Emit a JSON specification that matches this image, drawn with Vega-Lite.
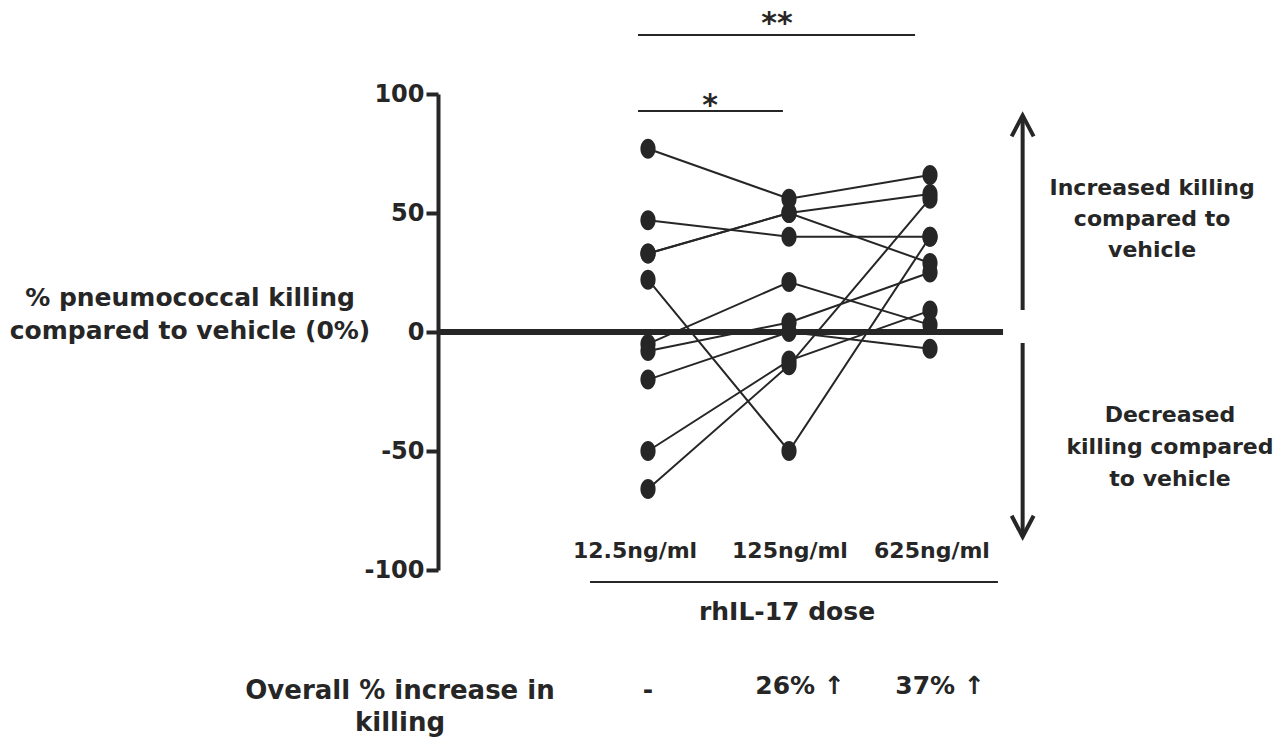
{
  "$schema": "https://vega.github.io/schema/vega-lite/v6.json",
  "autosize": {"type": "none"},
  "padding": {"left": 438, "top": 94, "right": 0, "bottom": 169},
  "width": 842,
  "height": 476,
  "background": "white",
  "config": {"view": {"stroke": null}, "text": {"font": "DejaVu Sans", "fontWeight": "bold", "color": "#262626"}},
  "datasets": {
    "killing": [
      {"subject": "A", "dose": 1, "value": 77}, {"subject": "A", "dose": 2, "value": 56}, {"subject": "A", "dose": 3, "value": 66},
      {"subject": "B", "dose": 1, "value": 47}, {"subject": "B", "dose": 2, "value": 40}, {"subject": "B", "dose": 3, "value": 40},
      {"subject": "C", "dose": 1, "value": 33}, {"subject": "C", "dose": 2, "value": 50}, {"subject": "C", "dose": 3, "value": 58},
      {"subject": "D", "dose": 1, "value": 33}, {"subject": "D", "dose": 2, "value": 50}, {"subject": "D", "dose": 3, "value": 29},
      {"subject": "E", "dose": 1, "value": 22}, {"subject": "E", "dose": 2, "value": -50}, {"subject": "E", "dose": 3, "value": 40},
      {"subject": "F", "dose": 1, "value": -5}, {"subject": "F", "dose": 2, "value": 21}, {"subject": "F", "dose": 3, "value": 3},
      {"subject": "G", "dose": 1, "value": -8}, {"subject": "G", "dose": 2, "value": 4}, {"subject": "G", "dose": 3, "value": 25},
      {"subject": "H", "dose": 1, "value": -20}, {"subject": "H", "dose": 2, "value": 0}, {"subject": "H", "dose": 3, "value": -7},
      {"subject": "I", "dose": 1, "value": -50}, {"subject": "I", "dose": 2, "value": -12}, {"subject": "I", "dose": 3, "value": 9},
      {"subject": "J", "dose": 1, "value": -66}, {"subject": "J", "dose": 2, "value": -14}, {"subject": "J", "dose": 3, "value": 56}
    ],
    "hrules": [
      {"kind": "zero", "x": -0.4894, "x2": 3.518, "y": 0},
      {"kind": "thin", "x": 0.589, "x2": 3.482, "y": -105},
      {"kind": "thin", "x": 0.929, "x2": 2.894, "y": 124.8},
      {"kind": "thin", "x": 0.929, "x2": 1.957, "y": 92.9}
    ],
    "arrows": [
      {"dir": "up", "x": 3.657, "y": 9.2, "y2": 91.0, "tip": 91.0},
      {"dir": "down", "x": 3.657, "y": -4.6, "y2": -86.0, "tip": -86.0}
    ],
    "texts": [
      {"kind": "ytitle", "x": -2.248, "y": 14.3, "text": "% pneumococcal killing"},
      {"kind": "ytitle", "x": -2.248, "y": 0.4, "text": "compared to vehicle (0%)"},
      {"kind": "xlabel", "x": 0.908, "y": -92.0, "text": "12.5ng/ml"},
      {"kind": "xlabel", "x": 2.007, "y": -92.0, "text": "125ng/ml"},
      {"kind": "xlabel", "x": 3.014, "y": -92.0, "text": "625ng/ml"},
      {"kind": "xtitle", "x": 1.986, "y": -117.6, "text": "rhIL-17 dose"},
      {"kind": "overall", "x": -0.759, "y": -150.8, "text": "Overall % increase in"},
      {"kind": "overall", "x": -0.759, "y": -164.3, "text": "killing"},
      {"kind": "pct", "x": 1.0, "y": -150.4, "text": "-"},
      {"kind": "pct", "x": 2.078, "y": -148.7, "text": "26% ↑"},
      {"kind": "pct", "x": 3.071, "y": -148.7, "text": "37% ↑"},
      {"kind": "side", "x": 4.575, "y": 60.5, "text": "Increased killing"},
      {"kind": "side", "x": 4.575, "y": 47.5, "text": "compared to"},
      {"kind": "side", "x": 4.575, "y": 34.5, "text": "vehicle"},
      {"kind": "side", "x": 4.702, "y": -34.9, "text": "Decreased"},
      {"kind": "side", "x": 4.702, "y": -48.3, "text": "killing compared"},
      {"kind": "side", "x": 4.702, "y": -61.8, "text": "to vehicle"},
      {"kind": "star", "x": 1.915, "y": 129.5, "text": "**"},
      {"kind": "star", "x": 1.44, "y": 95.0, "text": "*"}
    ]
  },
  "layer": [
    {
      "data": {"name": "hrules"},
      "transform": [{"filter": "datum.kind === 'thin'"}],
      "mark": {"type": "rule", "strokeWidth": 2, "color": "#262626", "clip": false},
      "encoding": {
        "x": {"field": "x", "type": "quantitative", "scale": {"domain": [-0.4894, 5.4823], "nice": false, "zero": false}, "axis": null},
        "x2": {"field": "x2"},
        "y": {"field": "y", "type": "quantitative", "scale": {"domain": [-100, 100], "nice": false, "zero": false},
          "axis": {"values": [-100, -50, 0, 50, 100], "labelExpr": "'' + datum.value", "title": null, "grid": false, "domainWidth": 4, "domainColor": "#262626", "tickWidth": 4, "tickColor": "#262626", "tickSize": 12, "labelFont": "DejaVu Sans", "labelFontWeight": "bold", "labelFontSize": 24, "labelColor": "#262626", "labelPadding": 2}}
      }
    },
    {
      "data": {"name": "killing"},
      "mark": {"type": "line", "strokeWidth": 2, "color": "#262626"},
      "encoding": {
        "x": {"field": "dose", "type": "quantitative"},
        "y": {"field": "value", "type": "quantitative"},
        "detail": {"field": "subject"}
      }
    },
    {
      "data": {"name": "hrules"},
      "transform": [{"filter": "datum.kind === 'zero'"}],
      "mark": {"type": "rule", "strokeWidth": 6, "color": "#262626", "clip": false},
      "encoding": {
        "x": {"field": "x", "type": "quantitative"},
        "x2": {"field": "x2"},
        "y": {"field": "y", "type": "quantitative"}
      }
    },
    {
      "data": {"name": "killing"},
      "mark": {"type": "point", "filled": true, "opacity": 1, "color": "#262626", "size": 400, "shape": "M -0.76 0 A 0.76 1 0 1 0 0.76 0 A 0.76 1 0 1 0 -0.76 0 Z"},
      "encoding": {
        "x": {"field": "dose", "type": "quantitative"},
        "y": {"field": "value", "type": "quantitative"}
      }
    },
    {
      "data": {"name": "arrows"},
      "mark": {"type": "rule", "strokeWidth": 4, "color": "#262626", "clip": false},
      "encoding": {
        "x": {"field": "x", "type": "quantitative"},
        "y": {"field": "y", "type": "quantitative"},
        "y2": {"field": "y2"}
      }
    },
    {
      "data": {"name": "arrows"},
      "transform": [{"filter": "datum.dir === 'up'"}],
      "mark": {"type": "point", "filled": false, "opacity": 1, "strokeWidth": 4, "color": "#262626", "size": 484, "shape": "M -1 1.9 L 0 0 L 1 1.9", "clip": false},
      "encoding": {
        "x": {"field": "x", "type": "quantitative"},
        "y": {"field": "tip", "type": "quantitative"}
      }
    },
    {
      "data": {"name": "arrows"},
      "transform": [{"filter": "datum.dir === 'down'"}],
      "mark": {"type": "point", "filled": false, "opacity": 1, "strokeWidth": 4, "color": "#262626", "size": 484, "shape": "M -1 -1.9 L 0 0 L 1 -1.9", "clip": false},
      "encoding": {
        "x": {"field": "x", "type": "quantitative"},
        "y": {"field": "tip", "type": "quantitative"}
      }
    },
    {
      "data": {"name": "texts"},
      "transform": [{"filter": "datum.kind === 'ytitle'"}],
      "mark": {"type": "text", "fontSize": 25, "align": "center", "baseline": "middle", "clip": false},
      "encoding": {
        "x": {"field": "x", "type": "quantitative"},
        "y": {"field": "y", "type": "quantitative"},
        "text": {"field": "text"}
      }
    },
    {
      "data": {"name": "texts"},
      "transform": [{"filter": "datum.kind === 'xtitle'"}],
      "mark": {"type": "text", "fontSize": 25, "align": "center", "baseline": "middle", "clip": false},
      "encoding": {
        "x": {"field": "x", "type": "quantitative"},
        "y": {"field": "y", "type": "quantitative"},
        "text": {"field": "text"}
      }
    },
    {
      "data": {"name": "texts"},
      "transform": [{"filter": "datum.kind === 'overall'"}],
      "mark": {"type": "text", "fontSize": 26, "align": "center", "baseline": "middle", "clip": false},
      "encoding": {
        "x": {"field": "x", "type": "quantitative"},
        "y": {"field": "y", "type": "quantitative"},
        "text": {"field": "text"}
      }
    },
    {
      "data": {"name": "texts"},
      "transform": [{"filter": "datum.kind === 'pct'"}],
      "mark": {"type": "text", "fontSize": 25, "align": "center", "baseline": "middle", "clip": false},
      "encoding": {
        "x": {"field": "x", "type": "quantitative"},
        "y": {"field": "y", "type": "quantitative"},
        "text": {"field": "text"}
      }
    },
    {
      "data": {"name": "texts"},
      "transform": [{"filter": "datum.kind === 'xlabel'"}],
      "mark": {"type": "text", "fontSize": 22, "align": "center", "baseline": "middle", "clip": false},
      "encoding": {
        "x": {"field": "x", "type": "quantitative"},
        "y": {"field": "y", "type": "quantitative"},
        "text": {"field": "text"}
      }
    },
    {
      "data": {"name": "texts"},
      "transform": [{"filter": "datum.kind === 'side'"}],
      "mark": {"type": "text", "fontSize": 22, "align": "center", "baseline": "middle", "clip": false},
      "encoding": {
        "x": {"field": "x", "type": "quantitative"},
        "y": {"field": "y", "type": "quantitative"},
        "text": {"field": "text"}
      }
    },
    {
      "data": {"name": "texts"},
      "transform": [{"filter": "datum.kind === 'star'"}],
      "mark": {"type": "text", "fontSize": 30, "align": "center", "baseline": "middle", "clip": false},
      "encoding": {
        "x": {"field": "x", "type": "quantitative"},
        "y": {"field": "y", "type": "quantitative"},
        "text": {"field": "text"}
      }
    }
  ]
}
